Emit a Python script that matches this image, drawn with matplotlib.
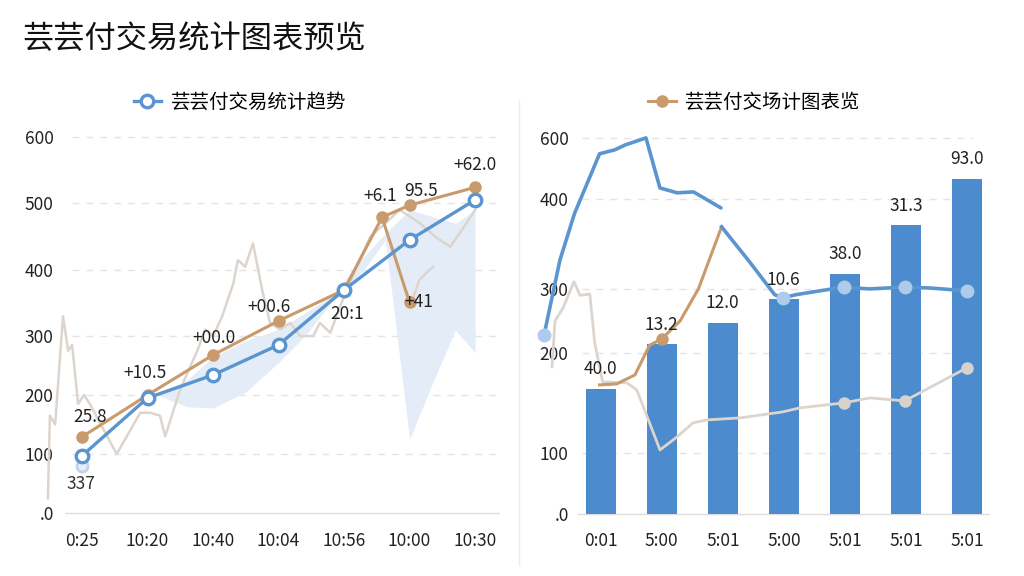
import numpy as np
import matplotlib
matplotlib.use('Agg')
import matplotlib.pyplot as plt

plt.rcParams['font.family'] = ['Noto Sans CJK SC', 'DejaVu Sans']

# ---- data, left panel ----
left_times = ['0:25', '10:20', '10:40', '10:04', '10:56', '10:00', '10:30']
left_blue = [97, 195, 234, 285, 370, 445, 505]
orange_x = [0, 1, 2, 3, 4, 4.58, 5, 6]
orange_vals = [129, 200, 268, 323, 370, 479, 497, 524]
drop_x = [4.58, 5]
drop_vals = [479, 351]
ghost_x = [0]
ghost_vals = [80]

gray_x = [-0.52, -0.49, -0.41, -0.29, -0.21, -0.15, -0.06, 0.03, 0.12, 0.53, 0.89, 1.04,
          1.19, 1.27, 1.5, 1.76, 1.88, 2.0, 2.14, 2.31, 2.38, 2.49, 2.61, 2.75, 2.87, 3.02,
          3.18, 3.33, 3.53, 3.63, 3.79, 3.94, 4.17, 4.4, 4.63, 4.85, 5.16, 5.39, 5.62, 5.8, 6.0]
gray_vals = [25, 165, 150, 330, 275, 285, 185, 200, 185, 100, 170, 170,
             165, 130, 210, 275, 310, 300, 330, 380, 415, 405, 440, 370, 320, 310,
             320, 300, 300, 320, 305, 345, 400, 450, 470, 490, 470, 450, 435, 460, 490]
gray2_x = [5.04, 5.15, 5.27, 5.36]
gray2_vals = [355, 385, 397, 405]

band_x = [1.2, 1.6, 2.0, 2.5, 3.0, 3.4, 3.8, 4.3, 4.63, 5.0, 5.35, 5.7, 6.0]
band_hi = [205, 225, 265, 292, 310, 335, 360, 420, 455, 490, 480, 470, 490]
band_lo = [198, 180, 178, 205, 255, 300, 350, 400, 445, 125, 220, 309, 272]

left_labels = ['25.8', '+10.5', '+00.0', '+00.6', '20:1', '+6.1', '95.5', '+62.0']
left_label_pts = [(0, 129), (1, 200), (2, 268), (3, 323), (4, 370), (4.58, 479), (5, 497), (6, 524)]
left_label_off = [(6, 14), (-2, 16), (1, 12), (-7, 10), (2, -17), (-1, 15), (8, 10), (0, 16)]

# ---- data, right panel ----
right_times = ['0:01', '5:00', '5:01', '5:00', '5:01', '5:01', '5:01']
bar_vals = [164, 214, 247, 284, 317, 371, 466]
bar_labels = ['40.0', '13.2', '12.0', '10.6', '38.0', '31.3', '93.0']

rblue1_x = [-0.93, -0.67, -0.43, -0.02, 0.23, 0.4, 0.74, 0.97, 1.25, 1.52, 1.97]
rblue1_vals = [228, 332, 384, 548, 561, 577, 600, 436, 420, 423, 390]
rblue2_x = [1.98, 2.44, 2.85, 2.98, 3.2, 3.46, 3.98, 4.4, 4.98, 5.4, 6.0]
rblue2_vals = [369, 330, 291, 286, 291, 295, 302, 300, 302, 301, 297]
rblue_mark_x = [-0.93, 2.98, 3.98, 4.98, 6.0]
rblue_mark_vals = [228, 286, 302, 302, 297]

rorange_x = [-0.02, 0.26, 0.56, 0.8, 1.0, 1.3, 1.6, 1.98]
rorange_vals = [168, 169, 178, 212, 222, 250, 300, 369]

rgray_x = [-0.8, -0.75, -0.62, -0.44, -0.34, -0.18, -0.1, 0.03, 0.43, 0.59, 0.97,
           1.25, 1.51, 1.74, 2.28, 2.98, 3.26, 3.98, 4.41, 4.98, 6.0]
rgray_vals = [186, 250, 270, 308, 290, 292, 216, 171, 170, 163, 103,
              116, 130, 133, 135, 141, 145, 150, 155, 152, 185]
rgray_mark_x = [3.98, 4.98, 6.0]
rgray_mark_vals = [150, 152, 185]


def warp_scale(vals, pix):
    # piecewise linear value axis, spacing taken from the reference ticks
    v = np.array(vals, float)
    p = -np.array(pix, float)

    def fwd(x):
        x = np.asarray(x, float)
        out = np.interp(x, v, p)
        out = np.where(x < v[0], p[0] + (x - v[0]) * (p[1] - p[0]) / (v[1] - v[0]), out)
        out = np.where(x > v[-1], p[-1] + (x - v[-1]) * (p[-1] - p[-2]) / (v[-1] - v[-2]), out)
        return out

    def inv(y):
        y = np.asarray(y, float)
        out = np.interp(y, p, v)
        out = np.where(y < p[0], v[0] + (y - p[0]) * (v[1] - v[0]) / (p[1] - p[0]), out)
        out = np.where(y > p[-1], v[-1] + (y - p[-1]) * (v[-1] - v[-2]) / (p[-1] - p[-2]), out)
        return out
    return fwd, inv


BLUE = '#5b95d0'
BAR = '#4c8bce'
ORANGE = '#c99a6c'
GRAY = '#ddd5cd'
TXT = '#222222'

fig = plt.figure(figsize=(10.24, 5.76), dpi=100)
fig.text(22 / 1024, 1 - 39 / 576, '芸芸付交易统计图表预览', fontsize=22.5, color='#111111',
         va='center', ha='left')
fig.add_artist(plt.Line2D([519 / 1024, 519 / 1024], [1 - 100 / 576, 1 - 565 / 576],
                          color='#eeeeee', lw=1))

# ---------- left ----------
ax = fig.add_axes([62 / 1024, 1 - 520 / 576, 438 / 1024, 390 / 576])
ax.set_yscale('function', functions=warp_scale([0, 100, 200, 300, 400, 500, 600],
                                                [513, 454, 395, 336, 270, 203, 137]))
ax.set_xlim(-0.305, 6.38)
ax.set_ylim(-12, 611)
ax.set_yticks([0, 100, 200, 300, 400, 500, 600])
ax.set_yticklabels(['.0', '100', '200', '300', '400', '500', '600'])
ax.set_xticks(range(len(left_times)))
ax.set_xticklabels(left_times)
for yv in [100, 200, 300, 400, 500, 600]:
    ax.hlines(yv, -0.15, 6.38, color='#e4e4e4', lw=1, linestyles=(0, (5, 5)), zorder=0)
ax.hlines(0, -0.26, 6.38, color='#dddddd', lw=1, zorder=0)

ax.fill_between(band_x, band_lo, band_hi, color='#e2ebf7', alpha=0.9, lw=0, zorder=1)
ax.plot(gray_x, gray_vals, color=GRAY, lw=1.8, zorder=2, clip_on=False)
ax.plot(gray2_x, gray2_vals, color=GRAY, lw=1.8, zorder=2)
ax.plot(drop_x, drop_vals, color=ORANGE, lw=2.2, marker='o', ms=8, zorder=3,
        markevery=[1])
ax.plot(orange_x, orange_vals, color=ORANGE, lw=2.2, marker='o', ms=8, zorder=3)
ax.plot(ghost_x, ghost_vals, ls='none', marker='o', ms=8, mfc='#e8eef6', mec='#c3d4ea',
        mew=2, zorder=3)
line_l, = ax.plot(range(len(left_blue)), left_blue, color=BLUE, lw=2.4, marker='o', ms=9,
                  mfc='white', mec=BLUE, mew=2.4, zorder=4)

for txt, pt, off in zip(left_labels, left_label_pts, left_label_off):
    ax.annotate(txt, xy=pt, xytext=off, textcoords='offset points', ha='center',
                va='center', fontsize=12.5, color=TXT, zorder=5)
ax.annotate('+41', xy=(drop_x[1], drop_vals[1]), xytext=(7, 0), textcoords='offset points',
            ha='center', va='center', fontsize=12.5, color=TXT, zorder=5)
ax.annotate('337', xy=(0, left_blue[0]), xytext=(-1, -20), textcoords='offset points',
            ha='center', va='center', fontsize=12.5, color='#333333', zorder=5)

ax.legend([line_l], ['芸芸付交易统计趋势'], loc='center', bbox_to_anchor=(0.406, 1.072),
          frameon=False, fontsize=14, handlelength=1.4, handletextpad=0.5)

# ---------- right ----------
ax2 = fig.add_axes([577 / 1024, 1 - 520 / 576, 413 / 1024, 390 / 576])
ax2.set_yscale('function', functions=warp_scale([0, 100, 200, 300, 400, 600],
                                                 [514, 453, 353, 289, 199, 138]))
ax2.set_xlim(-0.39, 6.38)
ax2.set_ylim(-10, 626)
ax2.set_yticks([0, 100, 200, 300, 400, 600])
ax2.set_yticklabels(['.0', '100', '200', '300', '400', '600'])
ax2.set_xticks(range(len(right_times)))
ax2.set_xticklabels(right_times)
for yv in [100, 200, 300, 400, 600]:
    ax2.hlines(yv, -0.3, 6.1, color='#e4e4e4', lw=1, linestyles=(0, (5, 5)), zorder=0)
ax2.hlines(0, -0.39, 6.38, color='#dddddd', lw=1, zorder=0)

bars = ax2.bar(range(len(bar_vals)), bar_vals, width=0.5, color=BAR, zorder=2)
for b, lab in zip(bars, bar_labels):
    ax2.annotate(lab, xy=(b.get_x() + b.get_width() / 2, b.get_height()), xytext=(0, 14),
                 textcoords='offset points', ha='center', va='center', fontsize=12.5,
                 color=TXT, zorder=6)

ax2.plot(rgray_x, rgray_vals, color=GRAY, lw=2, zorder=3, clip_on=False)
ax2.plot(rgray_mark_x, rgray_mark_vals, ls='none', marker='o', ms=8, color='#d8d2cc', zorder=3)
line_r, = ax2.plot(rorange_x, rorange_vals, color=ORANGE, lw=2.2, marker='o', ms=8,
                   markevery=[4], zorder=4)
ax2.plot(rblue1_x, rblue1_vals, color=BLUE, lw=2.6, solid_capstyle='round', zorder=4,
         clip_on=False)
ax2.plot(rblue2_x, rblue2_vals, color=BLUE, lw=2.6, zorder=4)
ax2.plot(rblue_mark_x, rblue_mark_vals, ls='none', marker='o', ms=9, color='#afcbea',
         zorder=5, clip_on=False)

ax2.legend([line_r], ['芸芸付交场计图表览'], loc='center', bbox_to_anchor=(0.43, 1.072),
           frameon=False, fontsize=14, handlelength=1.4, handletextpad=0.5)

for a in (ax, ax2):
    for s in a.spines.values():
        s.set_visible(False)
    a.tick_params(length=0, labelsize=12.5, labelcolor=TXT)
    a.tick_params(axis='x', pad=9)
    a.tick_params(axis='y', pad=6)
    a.minorticks_off()

fig.savefig('out.png', dpi=100, facecolor='white')
